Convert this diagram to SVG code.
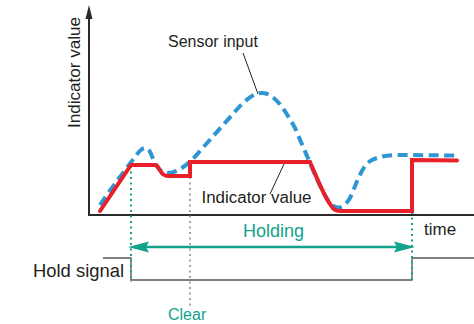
<svg xmlns="http://www.w3.org/2000/svg" width="474" height="324" viewBox="0 0 474 324">
  <style>
    .lbl { font-family: "Liberation Sans", Arial, sans-serif; fill: #231f20; }
    .grn { font-family: "Liberation Sans", Arial, sans-serif; fill: #12a38a; }
    .axis { stroke: #2a2a2a; stroke-width: 2; fill: none; }
    .leader { stroke: #231f20; stroke-width: 1; fill: none; }
    .sig { stroke: #555; stroke-width: 1.3; fill: none; }
    .gdot { stroke: #12a38a; stroke-width: 2; stroke-dasharray: 2 3.5; fill: none; }
    .kdot { stroke: #888; stroke-width: 1.5; stroke-dasharray: 2 3.5; fill: none; }
    .sensor { stroke: #2e96d4; stroke-width: 4; stroke-dasharray: 10 5.5; fill: none; stroke-linecap: butt; }
    .indicator { stroke: #e8202a; stroke-width: 4; fill: none; stroke-linejoin: miter; stroke-linecap: round; }
  </style>
  <rect width="474" height="324" fill="#ffffff"/>

  <!-- axes -->
  <g id="axes">
    <line class="axis" x1="89" y1="18" x2="89" y2="215"/>
    <polygon points="89,5 85.5,19 92.5,19" fill="#2a2a2a"/>
    <line class="axis" x1="88" y1="215" x2="474" y2="215" stroke="#444"/>
    <text class="lbl" font-size="16" transform="translate(79.5,128) rotate(-90)" textLength="111" lengthAdjust="spacingAndGlyphs">Indicator value</text>
    <text class="lbl" font-size="17" x="424" y="235">time</text>
  </g>

  <!-- marker lines, hold signal and holding span -->
  <g id="connectors">
    <line class="kdot" x1="190" y1="177" x2="190" y2="306"/>
    <path class="sig" d="M103,258 H131 V280 H412 V258 H474"/>
    <line class="gdot" x1="131" y1="166" x2="131" y2="282"/>
    <line class="gdot" x1="412" y1="212" x2="412" y2="282"/>
    <line x1="146" y1="247" x2="398" y2="247" stroke="#12a38a" stroke-width="2.5"/>
    <polygon points="128,247 149,241.5 146,247 149,252.5" fill="#12a38a"/>
    <polygon points="415,247 394,241.5 397,247 394,252.5" fill="#12a38a"/>
    <line class="leader" x1="243" y1="53" x2="258" y2="94"/>
    <line class="leader" x1="284" y1="164" x2="270" y2="194"/>
  </g>

  <!-- sensor input curve -->
  <g id="sensor-input">
    <path class="sensor" d="M100,205 C110,190 125,170 135,157 C140,150 144,146 148,149 C152,152 154,168 163,172 C172,176 183,168 192,160 L240,106 C248,98 256,92 263,93 C275,94 285,110 295,128 L310,163 C318,182 326,200 332,205 C338,210 344,208 350,198 C358,180 362,165 372,160 C380,156 390,155 400,155 L456,155.5"/>
    <text class="lbl" font-size="16" x="168" y="46.5">Sensor input</text>
  </g>

  <!-- indicator value curve -->
  <g id="indicator-value">
    <path class="indicator" d="M100,211 L131,165 L155,165 C160,165 159,176 168,176 L190,176 L190,162 L310,162 C317,178 324,196 330,204 C333,209 335,211 340,211 L412,211 L412,160 L457,160.5"/>
    <text class="lbl" font-size="16" x="201.5" y="203" textLength="110" lengthAdjust="spacingAndGlyphs">Indicator value</text>
  </g>

  <g id="hold-signal">
    <text class="lbl" font-size="18" x="33" y="276.5" textLength="91" lengthAdjust="spacingAndGlyphs">Hold signal</text>
  </g>

  <g id="holding">
    <text class="grn" font-size="18" x="243" y="237">Holding</text>
  </g>

  <g id="clear">
    <text class="grn" font-size="16" x="168" y="320">Clear</text>
  </g>
</svg>
